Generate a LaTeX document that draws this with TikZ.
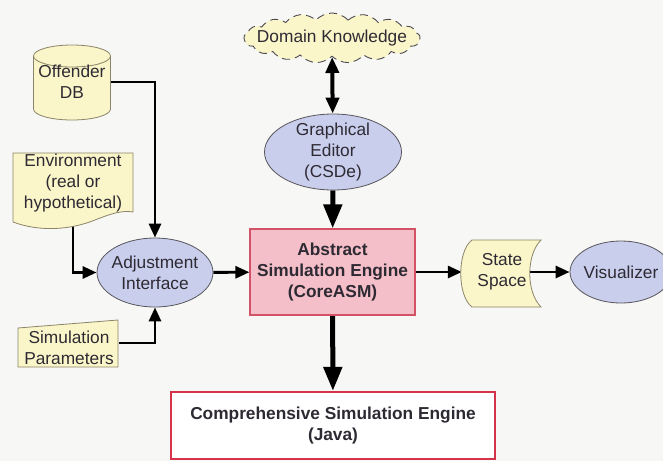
\documentclass[tikz,border=0pt]{standalone}
\usepackage{fontspec}
\setmainfont{Liberation Sans}
\usetikzlibrary{arrows.meta,shapes.geometric,shapes.symbols}
\pgfdeclarelayer{bg}
\pgfdeclarelayer{lines}
\pgfdeclarelayer{shapes}
\pgfsetlayers{bg,lines,shapes,main}

\definecolor{paper}{HTML}{F7F7F5}
\definecolor{cream}{HTML}{FAF6C9}
\definecolor{creamline}{HTML}{8C8468}
\definecolor{lilac}{HTML}{C9CEEC}
\definecolor{rose}{HTML}{F4BFC9}
\definecolor{roseline}{HTML}{D25366}
\definecolor{crimson}{HTML}{D5334A}
\definecolor{ink}{HTML}{2E2A33}

\tikzset{
  lbl/.style={text=ink, align=center, font=\fontsize{17.3}{21}\selectfont, inner sep=0pt},
  boldlbl/.style={lbl, font=\fontsize{17.3}{21}\selectfont\bfseries},
  oval/.style={ellipse, draw=ink!80, line width=0.8pt, fill=lilac, inner sep=0pt},
  conn/.style={line width=2.9pt, -{Triangle[length=14pt,width=12pt]}},
  heavy/.style={line width=5pt, -{Triangle[length=24pt,width=18pt]}},
  paperbox/.style={fill=cream, draw=creamline, line width=0.8pt},
}

\begin{document}
\begin{tikzpicture}[x=1pt,y=-1pt]
\begin{pgfonlayer}{bg}
  \fill[paper] (0,0) rectangle (663,461);
\end{pgfonlayer}
\useasboundingbox (0,0) rectangle (663,461);
\clip (0,0) rectangle (663,461);

% ---------- text nodes and main shapes ----------
\node[lbl, minimum width=77pt, minimum height=60pt] (db) at (72,82) {Offender\\DB};
\node[lbl, minimum width=120pt, minimum height=60pt] (env) at (73,183) {Environment\\(real or\\hypothetical)};
\coordinate (envb) at (73,220);
\node[lbl, minimum width=100pt, minimum height=40pt] (sp) at (69,348) {Simulation\\Parameters};

\node[oval, minimum width=116pt, minimum height=69pt,
      label={[lbl]center:Adjustment\\Interface}] (adj) at (155,272.5) {};
\node[oval, minimum width=137pt, minimum height=76pt,
      label={[lbl]center:Graphical\\Editor\\(CSDe)}] (ge) at (333,152) {};
\node[oval, minimum width=102pt, minimum height=62pt,
      label={[lbl]center:Visualizer}] (vis) at (621,272) {};

\node[cloud, cloud puffs=17, cloud puff arc=95, aspect=3.6, draw=ink!85, line width=0.9pt,
      dash pattern=on 8pt off 5pt, fill=cream, inner sep=0pt,
      minimum width=176pt, minimum height=50pt,
      label={[lbl]center:Domain Knowledge}] (dk) at (332,38) {};

\node[boldlbl, draw=roseline, line width=1.2pt, fill=rose,
      minimum width=165pt, minimum height=86pt] (ase) at (332.5,272)
      {Abstract\\Simulation Engine\\(CoreASM)};
\node[boldlbl, draw=crimson, line width=2.2pt, fill=white,
      minimum width=324pt, minimum height=67pt] (cse) at (333,425.5)
      {Comprehensive Simulation Engine\\(Java)};

\node[lbl, minimum width=80pt, minimum height=67pt] (ss) at (502,272) {State\\Space};

% ---------- outlines of the data symbols ----------
\begin{pgfonlayer}{shapes}
  % database cylinder
  \draw[paperbox] (33.5,56) -- (33.5,109)
      arc[start angle=180, end angle=360, x radius=38.5pt, y radius=11pt]
      -- (110.5,56)
      arc[start angle=0, end angle=180, x radius=38.5pt, y radius=11pt] -- cycle;
  \draw[creamline, line width=0.8pt] (33.5,56)
      arc[start angle=180, end angle=360, x radius=38.5pt, y radius=11pt];
  % document with wavy bottom
  \draw[paperbox] (13,222) -- (13,153) -- (133,153) -- (133,212)
      .. controls (122,210) and (110,214) .. (95,220)
      .. controls (70,230) and (40,232) .. (13,222) -- cycle;
  % manual input card
  \draw[paperbox] (18,328) -- (118,320) -- (118,367) -- (18,367) -- cycle;
  % stored data
  \draw[paperbox] (472,240) -- (541,240)
      .. controls (526,255) and (526,292) .. (541,307)
      -- (472,307)
      .. controls (457,296) and (457,251) .. (472,240) -- cycle;
\end{pgfonlayer}

% ---------- connectors ----------
\begin{pgfonlayer}{lines}
  \draw[conn] (db) -| (adj);
  \draw[conn] (envb) |- (adj);
  \draw[conn] ([yshift=5pt]sp.east) -| (adj);
  \draw[conn] (adj) -- (ase);
  \draw[heavy] (ge) -- (ase);
  \draw[heavy] (ase) -- (cse);
  \draw[line width=4pt, {Triangle[length=16pt,width=13pt]}-{Triangle[length=16pt,width=13pt]}] (dk) -- (ge);
  \draw[conn] (ase.east) -- (ase.east -| ss.west);
  \draw[conn] (ss.center) -- (vis);
\end{pgfonlayer}
\end{tikzpicture}
\end{document}
